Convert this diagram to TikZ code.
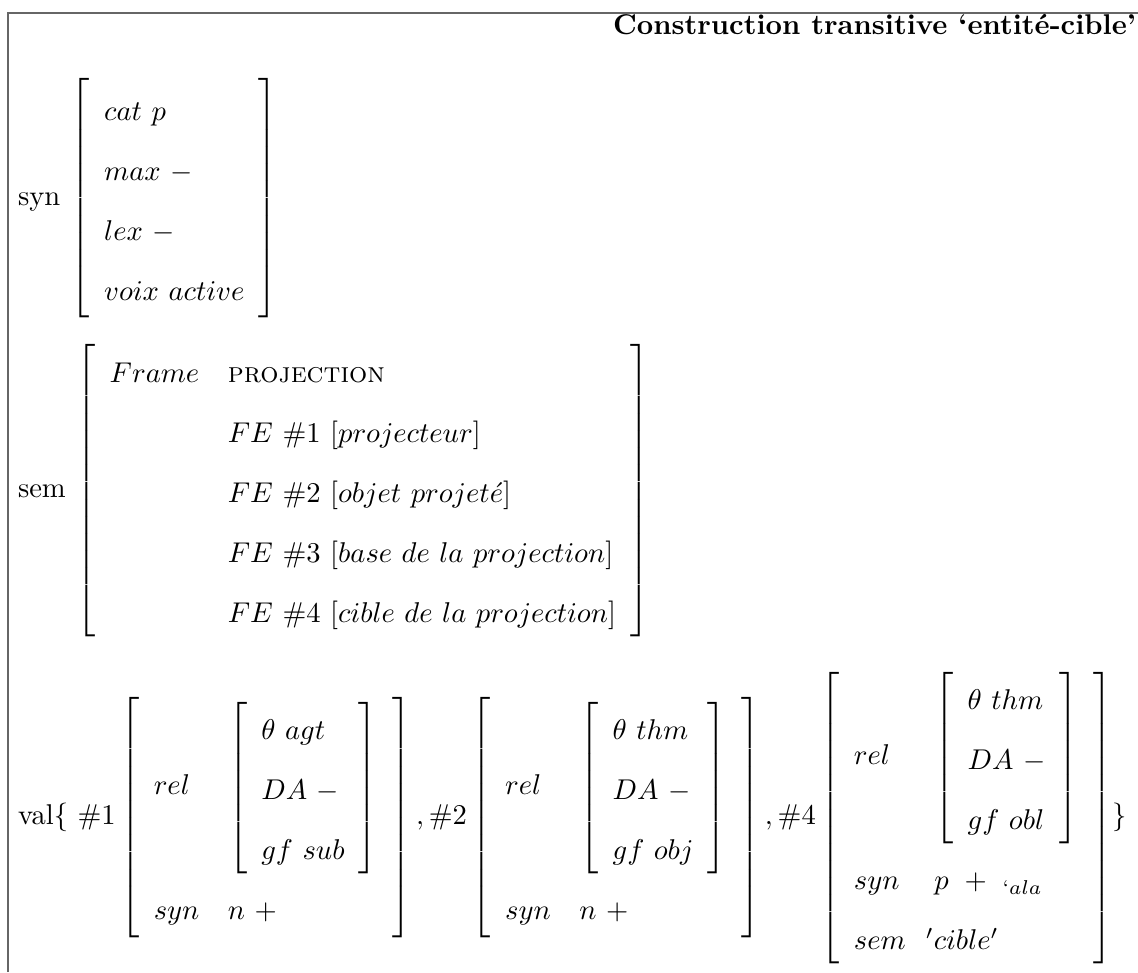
\documentclass[tikz,border=0pt]{standalone}
\usetikzlibrary{positioning}

\tikzset{
  lbl/.style={inner sep=0pt, anchor=base west},
  avm/.style={inner sep=0pt, anchor=base west},
  boxline/.style={draw=black!60, line width=0.5pt}
}
\renewcommand{\arraystretch}{1.75}

\begin{document}
\begin{tikzpicture}[x=1pt,y=1pt]
  \useasboundingbox (0,0) rectangle (398,-340);
  \draw[boxline] (2.8,-340) |- (398,-4.5);

  \node[lbl, anchor=base east] (titre) at (397.5,-12) {\bfseries Construction transitive ‘entité-cible’};

  % syn
  \node[lbl] (synlab) at (6.1,-71.8) {syn};
  \node[avm] (synavm) at ([xshift=3.3pt]synlab.base east)
    {$\left[\begin{array}{l}
      cat\ p\\ max\ -\\ lex\ -\\ voix\ active
    \end{array}\right]$};

  % sem
  \node[lbl] (semlab) at (6.1,-174.1) {sem};
  \node[avm] (semavm) at ([xshift=3.3pt]semlab.base east)
    {$\left[\begin{array}{ll}
      Frame & \textsc{projection}\\
      & FE\ \#1\ [projecteur]\\
      & FE\ \#2\ [objet\ projet\acute{e}]\\
      & FE\ \#3\ [base\ de\ la\ projection]\\
      & FE\ \#4\ [cible\ de\ la\ projection]
    \end{array}\right]$};

  % val
  \node[lbl] (val) at (6.1,-288.5)
    {val\{ $\#1\left[\begin{array}{ll}
      rel & \left[\begin{array}{l} \theta\ agt\\ DA\ -\\ gf\ sub \end{array}\right]\\
      syn & n\ +
    \end{array}\right], \#2\left[\begin{array}{ll}
      rel & \left[\begin{array}{l} \theta\ thm\\ DA\ -\\ gf\ obj \end{array}\right]\\
      syn & n\ +
    \end{array}\right], \#4\left[\begin{array}{ll}
      rel & \left[\begin{array}{l} \theta\ thm\\ DA\ -\\ gf\ obl \end{array}\right]\\
      syn & p\ +\ {}_{`ala}\\
      sem & \kern-3pt 'cible'
    \end{array}\right]\}$};
\end{tikzpicture}
\end{document}
